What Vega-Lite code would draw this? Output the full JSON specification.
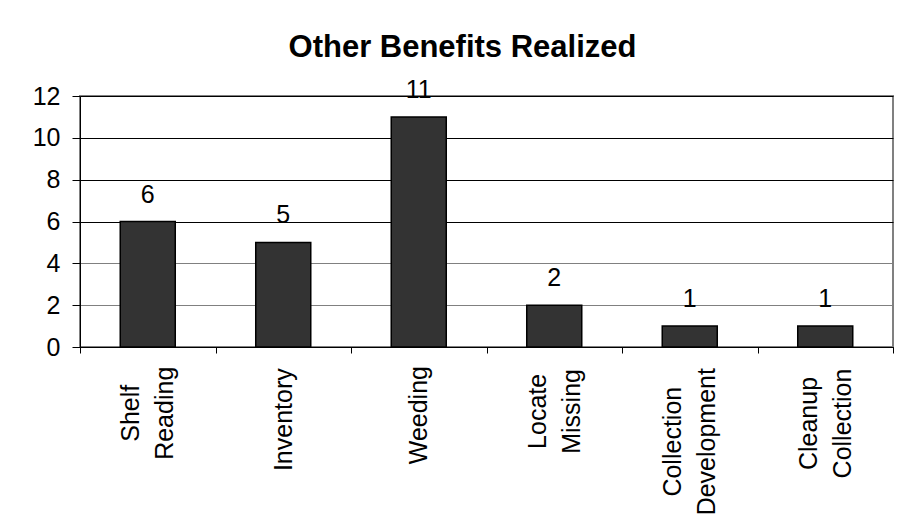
{
  "$schema": "https://vega.github.io/schema/vega-lite/v6.json",
  "width": 813,
  "height": 251,
  "autosize": {"type": "none"},
  "padding": {"left": 80, "top": 96, "right": 8, "bottom": 169},
  "background": "white",
  "title": {
    "text": "Other Benefits Realized",
    "font": "Liberation Sans",
    "fontSize": 31,
    "fontWeight": "bold",
    "color": "black",
    "frame": "group",
    "anchor": "middle",
    "dx": -24,
    "offset": 14
  },
  "data": {
    "values": [
      {"benefit": "Shelf Reading", "count": 6},
      {"benefit": "Inventory", "count": 5},
      {"benefit": "Weeding", "count": 11},
      {"benefit": "Locate Missing", "count": 2},
      {"benefit": "Collection Development", "count": 1},
      {"benefit": "Cleanup Collection", "count": 1}
    ]
  },
  "encoding": {
    "x": {
      "field": "benefit",
      "type": "nominal",
      "sort": null,
      "scale": {"paddingInner": 0, "paddingOuter": 0},
      "axis": {
        "title": null,
        "labelExpr": "split(datum.label, ' ')",
        "labelAngle": -90,
        "labelAlign": "center",
        "labelBaseline": "middle",
        "labelLineHeight": 34,
        "labelPadding": {"expr": "13 + 12.5 * max(0.556 * length(split(datum.label, ' ')[0]) - 0.3 * (length(split(datum.label, ' ')[0]) - length(replace(split(datum.label, ' ')[0], regexp('[ilj]', 'g'), ''))) - 0.25 * (length(split(datum.label, ' ')[0]) - length(replace(split(datum.label, ' ')[0], regexp('[tfrI]', 'g'), ''))) + 0.3 * (length(split(datum.label, ' ')[0]) - length(replace(split(datum.label, ' ')[0], regexp('[WMm]', 'g'), ''))) + 0.15 * (length(split(datum.label, ' ')[0]) - length(replace(split(datum.label, ' ')[0], regexp('[CDRS]', 'g'), ''))), 0.556 * length(peek(split(datum.label, ' '))) - 0.3 * (length(peek(split(datum.label, ' '))) - length(replace(peek(split(datum.label, ' ')), regexp('[ilj]', 'g'), ''))) - 0.25 * (length(peek(split(datum.label, ' '))) - length(replace(peek(split(datum.label, ' ')), regexp('[tfrI]', 'g'), ''))) + 0.3 * (length(peek(split(datum.label, ' '))) - length(replace(peek(split(datum.label, ' ')), regexp('[WMm]', 'g'), ''))) + 0.15 * (length(peek(split(datum.label, ' '))) - length(replace(peek(split(datum.label, ' ')), regexp('[CDRS]', 'g'), ''))))"},
        "labelOffset": {"expr": "indexof(datum.label, ' ') >= 0 ? -17 : 0"},
        "labelFont": "Liberation Sans",
        "labelFontSize": 25,
        "labelColor": "black",
        "labelLimit": 300,
        "tickBand": "extent",
        "tickSize": 6,
        "tickColor": "black",
        "domainColor": "black",
        "grid": false
      }
    },
    "y": {
      "field": "count",
      "type": "quantitative",
      "scale": {"domain": [0, 12]},
      "axis": {
        "title": null,
        "values": [0, 2, 4, 6, 8, 10, 12],
        "labelFont": "Liberation Sans",
        "labelFontSize": 25,
        "labelColor": "black",
        "labelPadding": 12,
        "tickSize": 8,
        "tickColor": "black",
        "domainColor": "black",
        "grid": true,
        "gridColor": {"condition": {"test": "datum.value > 0 && datum.value <= 4", "value": "#808080"}, "value": "black"},
        "gridOpacity": 1
      }
    }
  },
  "layer": [
    {
      "mark": {
        "type": "bar",
        "width": {"band": 0.406},
        "fill": "#333333",
        "stroke": "black",
        "strokeWidth": 1.5
      }
    },
    {
      "mark": {
        "type": "text",
        "baseline": "alphabetic",
        "dy": -19,
        "font": "Liberation Sans",
        "fontSize": 25,
        "color": "black"
      },
      "encoding": {"text": {"field": "count", "type": "quantitative"}}
    }
  ],
  "config": {
    "view": {"stroke": "#808080", "strokeWidth": 2},
    "axis": {"domainWidth": 1, "tickWidth": 1, "gridWidth": 1}
  }
}
